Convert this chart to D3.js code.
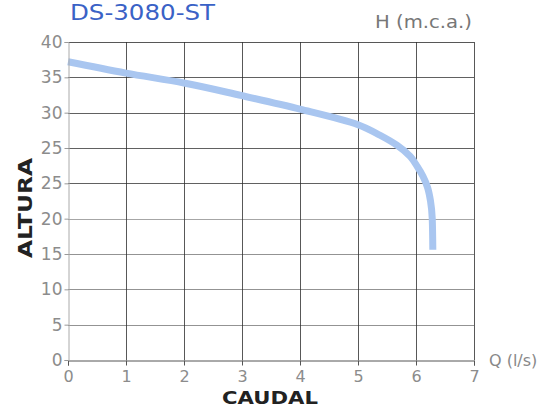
<!DOCTYPE html>
<html>
<head>
<meta charset="utf-8">
<script src="https://cdn.jsdelivr.net/npm/d3@7/dist/d3.min.js"></script>
<style>
html,body{margin:0;padding:0;background:#fff;}
svg{display:block;}
</style>
</head>
<body>
<svg id="c" width="545" height="407"></svg>
<script>
// Tick labels as printed in the reference (note the duplicated "25")
const xTicks = [0, 1, 2, 3, 4, 5, 6, 7];
const yTickValues = [0, 5, 10, 15, 20, 25, 30, 35, 40, 45];
const yTickLabels = ["0", "5", "10", "15", "20", "25", "25", "30", "35", "40"];

// Pump curve: caudal Q (l/s) vs. altura in grid units of the y scale
const caudal = [0, 1, 2, 3, 4, 5, 5.38, 5.67, 5.9, 6.02, 6.12, 6.2, 6.25, 6.28, 6.29];
const altura = [42.2, 40.6, 39.2, 37.4, 35.5, 33.3, 31.8, 30.4, 28.8, 27.4, 26.0, 24.4, 22.5, 20.0, 15.6];

const title = "DS-3080-ST";

const svg = d3.select("#c");
const x = d3.scaleLinear().domain([0, 7]).range([68, 474]);
const y = d3.scaleLinear().domain([0, 45]).range([360, 42]);

// title
svg.append("text").attr("x", 70).attr("y", 20)
  .attr("font-family", "DejaVu Sans").attr("font-size", 21)
  .attr("fill", "#3a62c6").attr("textLength", 145).attr("lengthAdjust", "spacingAndGlyphs")
  .text(title);

// horizontal grid
svg.append("g").selectAll("line").data(yTickValues.slice(1)).join("line")
  .attr("x1", x(0)).attr("x2", x(7))
  .attr("y1", d => Math.round(y(d)) + 0.5).attr("y2", d => Math.round(y(d)) + 0.5)
  .attr("stroke", "#3a3a3a").attr("stroke-opacity", (d, i) => [0.55,0.55,0.55,0.45,0.8,0.8,0.8,0.8,0.85][i]);

// vertical grid
svg.append("g").selectAll("line").data(xTicks.slice(1)).join("line")
  .attr("x1", d => Math.round(x(d)) + 0.5).attr("x2", d => Math.round(x(d)) + 0.5)
  .attr("y1", y(45)).attr("y2", y(0))
  .attr("stroke", "#2e2e2e").attr("stroke-opacity", 0.8);

// curve
svg.append("path").datum(altura).attr("d", d3.line()
    .x((d, i) => x(caudal[i])).y(d => y(d)).curve(d3.curveMonotoneY))
  .attr("fill", "none").attr("stroke", "#a9c6f0").attr("stroke-width", 7)
  .attr("stroke-linecap", "butt");

// axes
const xAxis = d3.axisBottom(x).tickValues(xTicks).tickSize(5).tickPadding(5).tickFormat(d3.format("d"));
const gx = svg.append("g").attr("transform", "translate(0," + (y(0) + 0.5) + ")").call(xAxis);
gx.select(".domain").attr("stroke", "#555");
gx.selectAll(".tick line").attr("stroke", "#555");
gx.selectAll(".tick text").attr("font-family", "DejaVu Sans").attr("font-size", 16).attr("fill", "#8c8c8c");

const yAxis = d3.axisLeft(y).tickValues(yTickValues).tickSize(4).tickPadding(2)
  .tickFormat((d, i) => yTickLabels[i]);
const gy = svg.append("g").attr("transform", "translate(" + (x(0) + 0.5) + ",0)").call(yAxis);
gy.select(".domain").attr("stroke", "#aaa");
gy.selectAll(".tick line").attr("stroke", "#999");
gy.selectAll(".tick text").attr("font-family", "DejaVu Sans").attr("font-size", 17).attr("fill", "#8c8c8c");

// axis titles
svg.append("text").attr("x", 375).attr("y", 28)
  .attr("font-family", "DejaVu Sans").attr("font-size", 17).attr("fill", "#777")
  .attr("textLength", 97).attr("lengthAdjust", "spacingAndGlyphs").text("H (m.c.a.)");
svg.append("text").attr("x", 489).attr("y", 366)
  .attr("font-family", "DejaVu Sans").attr("font-size", 16).attr("fill", "#888")
  .text("Q (l/s)");
svg.append("text").attr("x", 270).attr("y", 404).attr("text-anchor", "middle")
  .attr("font-family", "DejaVu Sans").attr("font-weight", "bold").attr("font-size", 17).attr("fill", "#222")
  .attr("textLength", 96).attr("lengthAdjust", "spacingAndGlyphs").text("CAUDAL");
svg.append("text").attr("transform", "translate(32,208) rotate(-90)").attr("text-anchor", "middle")
  .attr("font-family", "DejaVu Sans").attr("font-weight", "bold").attr("font-size", 20).attr("fill", "#222")
  .attr("textLength", 100).attr("lengthAdjust", "spacingAndGlyphs").text("ALTURA");
</script>
</body>
</html>
